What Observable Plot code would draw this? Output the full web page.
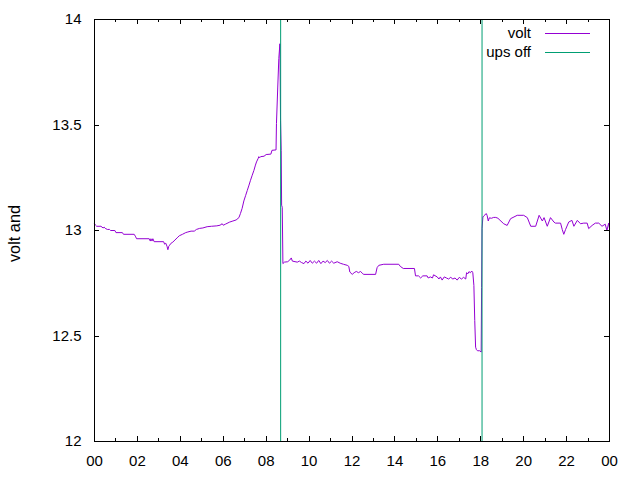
<!DOCTYPE html>
<html><head><meta charset="utf-8">
<script src="https://cdn.jsdelivr.net/npm/d3@7"></script>
<script src="https://cdn.jsdelivr.net/npm/@observablehq/plot@0.6"></script>
<style>body{margin:0;background:#fff} svg{display:block}</style>
</head><body><div id="chart"></div>
<script>
// time of day in hours (0 = 00:00, 24 = next 00:00)
const hours = [
  0.00,0.05,0.10,0.30,0.40,0.45,0.50,0.60,0.70,0.75,0.95,1.00,1.30,1.35,1.85,1.92,1.96,2.55,2.60,2.63,2.68,2.72,2.78,3.22,3.27,3.32,3.38,3.42,3.46,3.50,3.55,3.65,3.75,3.85,3.95,4.10,4.25,4.35,4.50,4.65,4.75,4.90,5.05,5.25,5.45,5.70,5.85,5.95,6.00,6.10,6.30,6.45,6.60,6.73,
  6.80,6.88,6.96,7.04,7.12,7.20,7.27,7.35,7.43,7.50,7.55,7.62,7.66,7.70,7.74,7.90,8.00,8.22,8.27,8.46,8.48,8.54,8.59,8.64,8.67,8.70,8.72,8.75,8.78,
  8.85,9.00,9.10,9.17,9.22,9.45,9.55,9.65,9.76,9.85,9.95,10.05,10.15,10.25,10.35,10.45,10.55,10.65,10.75,10.85,10.95,11.05,11.15,11.31,11.45,11.60,11.78,11.85,11.90,12.01,12.10,12.20,12.30,12.40,12.50,12.55,13.10,13.17,13.25,13.48,14.18,14.25,14.39,14.91,14.96,15.10,15.20,15.30,15.50,15.55,15.65,15.75,15.80,15.97,16.05,16.12,16.20,16.30,16.40,16.50,16.60,16.70,16.80,16.90,17.00,17.10,17.20,17.30,17.34,17.40,17.45,17.52,17.58,17.63,
  17.68,17.72,17.76,17.80,17.85,17.95,18.02,18.04,18.06,18.10,18.15,18.20,18.26,18.30,18.35,18.40,18.50,18.60,18.70,18.80,19.07,19.23,19.39,19.70,20.00,20.17,20.33,20.56,20.72,20.87,20.95,21.10,21.25,21.41,21.48,21.72,21.80,21.87,21.95,22.10,22.25,22.34,22.50,22.65,22.80,22.96,23.03,23.19,23.34,23.50,23.65,23.80,23.88,23.96,24.00
];
const volts = [
  13.032,13.025,13.020,13.020,13.012,13.016,13.010,13.005,13.005,13.000,13.000,12.990,12.990,12.982,12.982,12.970,12.961,12.961,12.950,12.961,12.950,12.961,12.947,12.947,12.935,12.940,12.925,12.909,12.925,12.930,12.938,12.945,12.955,12.965,12.975,12.982,12.990,12.993,12.997,12.997,13.005,13.010,13.012,13.018,13.020,13.022,13.025,13.032,13.025,13.030,13.040,13.045,13.050,13.061,
  13.080,13.105,13.140,13.165,13.190,13.215,13.238,13.262,13.285,13.310,13.325,13.340,13.350,13.345,13.350,13.352,13.360,13.362,13.380,13.382,13.507,13.680,13.815,13.885,13.520,13.380,13.120,13.110,12.843,
  12.850,12.852,12.860,12.870,12.855,12.850,12.855,12.848,12.843,12.855,12.845,12.858,12.845,12.855,12.845,12.858,12.843,12.855,12.848,12.858,12.845,12.855,12.845,12.852,12.845,12.840,12.835,12.830,12.803,12.792,12.800,12.806,12.800,12.806,12.795,12.792,12.792,12.824,12.835,12.840,12.840,12.830,12.820,12.820,12.785,12.785,12.775,12.785,12.785,12.775,12.780,12.775,12.790,12.780,12.770,12.780,12.765,12.780,12.775,12.770,12.778,12.770,12.775,12.765,12.778,12.770,12.778,12.770,12.800,12.795,12.805,12.800,12.808,12.800,
  12.740,12.574,12.447,12.435,12.430,12.430,12.424,12.730,13.009,13.064,13.070,13.075,13.080,13.070,13.045,13.060,13.058,13.062,13.062,13.058,13.032,13.024,13.056,13.072,13.072,13.061,13.020,13.020,13.072,13.045,13.061,13.020,13.061,13.040,13.035,13.035,13.004,12.982,13.004,13.040,13.048,13.020,13.048,13.032,13.035,13.035,13.009,13.024,13.035,13.035,13.020,13.030,13.000,13.035,13.010
];
const upsOffHours = [8.675, 18.06];
const xTicks = [0,2,4,6,8,10,12,14,16,18,20,22,24];
const xMinorTicks = [1,3,5,7,9,11,13,15,17,19,21,23];
const yTicks = [12,12.5,13,13.5,14];
const seriesNames = ["volt","ups off"];
const seriesColors = ["#9400d3","#009e73"];
const yLabel = "volt and";

const data = hours.map((h,i)=>({h, v: volts[i]}));
const font = "'Liberation Sans', Arial, sans-serif";

const plot = Plot.plot({
  width:640, height:480,
  marginLeft:94, marginRight:31, marginTop:19, marginBottom:39,
  style:{fontFamily:font, fontSize:"15px", background:"#fff", color:"#000", overflow:"visible"},
  x:{domain:[0,24]},
  y:{domain:[12,14]},
  marks:[
    Plot.line(data,{x:"h",y:"v",stroke:seriesColors[0],strokeWidth:1}),
    Plot.ruleX(upsOffHours,{x:d=>d,y1:12,y2:14,stroke:seriesColors[1],strokeWidth:1}),
    Plot.frame({stroke:"#000",strokeWidth:1}),
    Plot.axisX(xTicks,{tickSize:0,tickPadding:14,fontSize:15,tickFormat:d=>String(d%24).padStart(2,"0"),label:null}),
    Plot.axisY(yTicks,{tickSize:0,tickPadding:13,fontSize:15,tickFormat:d=>String(d),label:null})
  ]
});
document.getElementById("chart").appendChild(plot);

const svg = d3.select(plot);
const sx = plot.scale("x"), sy = plot.scale("y");
const [L,R] = sx.range;
const B = sy.apply(12), T = sy.apply(14);
const px = v => Math.round(v)+0.5;
const g = svg.append("g").attr("stroke","#000").attr("stroke-width",1);
function xt(t,len){
  const x = px(sx.apply(t));
  g.append("line").attr("x1",x).attr("x2",x).attr("y1",B).attr("y2",B-len);
  g.append("line").attr("x1",x).attr("x2",x).attr("y1",T).attr("y2",T+len);
}
xTicks.forEach(t=>xt(t,5));
xMinorTicks.forEach(t=>xt(t,3));
yTicks.forEach(t=>{
  const y = px(sy.apply(t));
  g.append("line").attr("x1",L).attr("x2",L+5).attr("y1",y).attr("y2",y);
  g.append("line").attr("x1",R).attr("x2",R-5).attr("y1",y).attr("y2",y);
});

// legend (gnuplot style, inside top right)
const lg = svg.append("g").attr("font-family",font).attr("font-size",15);
seriesNames.forEach((name,i)=>{
  const yy = T + 14 + i*19;
  lg.append("text").attr("x",R-78).attr("y",yy).attr("dy","0.35em")
    .attr("text-anchor","end").attr("fill","#000").text(name);
  lg.append("line").attr("x1",R-64).attr("x2",R-19).attr("y1",Math.round(yy)+0.5).attr("y2",Math.round(yy)+0.5)
    .attr("stroke",seriesColors[i]).attr("stroke-width",1);
});

// y axis label
svg.append("text").attr("font-family",font).attr("font-size",16.3).attr("fill","#000")
  .attr("text-anchor","middle").attr("dy","0.35em")
  .attr("transform",`translate(${L-79.5},${(T+B)/2+3.5}) rotate(-90)`)
  .text(yLabel);
</script></body></html>
